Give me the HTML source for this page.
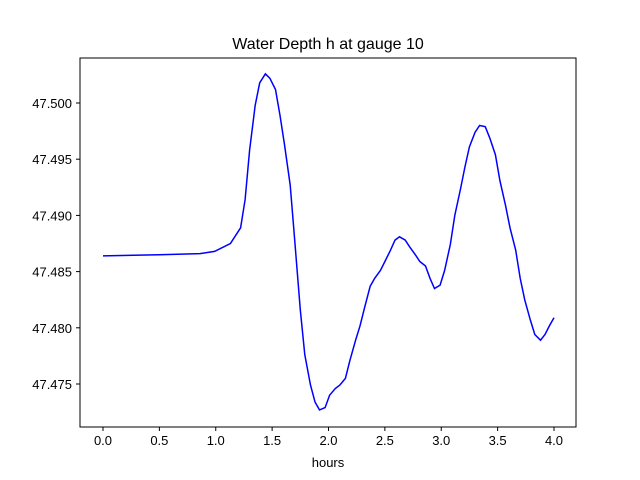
<!DOCTYPE html>
<html><head><meta charset="utf-8"><style>
body{margin:0;background:#fff;}
svg{display:block;font-family:"Liberation Sans","DejaVu Sans",sans-serif;}
</style></head><body>
<svg id="chart" width="640" height="480">
<rect x="0" y="0" width="640" height="480" fill="#fff"/>
<text x="328" y="49" text-anchor="middle" font-size="16">Water Depth h at gauge 10</text>
<g id="ticks"></g>
<path id="line" fill="none" stroke="#0000ff" stroke-width="1.5"/>
<rect x="80" y="58" width="496" height="369" fill="none" stroke="#000" stroke-width="1"/>
<text x="328" y="467" text-anchor="middle" font-size="13">hours</text>
</svg>
<script>
const hours=[0,0.5,0.86,0.99,1.13,1.22,1.26,1.30,1.35,1.39,1.44,1.48,1.53,1.57,1.61,1.66,1.70,1.75,1.79,1.84,1.88,1.92,1.97,2.01,2.06,2.10,2.15,2.19,2.24,2.28,2.32,2.37,2.41,2.46,2.50,2.55,2.59,2.63,2.68,2.72,2.77,2.81,2.86,2.90,2.94,2.99,3.03,3.08,3.12,3.17,3.21,3.25,3.30,3.34,3.39,3.43,3.48,3.52,3.57,3.61,3.66,3.70,3.74,3.79,3.83,3.88,3.92,3.96,4.00];
const depth=[47.4864,47.4865,47.4866,47.4868,47.4875,47.4889,47.4914,47.4958,47.4998,47.5018,47.5026,47.5022,47.5012,47.4989,47.4963,47.4927,47.4878,47.4816,47.4776,47.4749,47.4734,47.4727,47.4729,47.4740,47.4746,47.4749,47.4755,47.4771,47.4789,47.4802,47.4818,47.4837,47.4844,47.4851,47.4859,47.4869,47.4878,47.4881,47.4878,47.4872,47.4865,47.4859,47.4855,47.4844,47.4835,47.4838,47.4851,47.4874,47.4900,47.4923,47.4943,47.4961,47.4974,47.4980,47.4979,47.4969,47.4954,47.4931,47.4909,47.4889,47.4869,47.4844,47.4825,47.4807,47.4794,47.4789,47.4794,47.4802,47.4809];
const xTicks=[0,0.5,1,1.5,2,2.5,3,3.5,4];
const yTicks=[47.475,47.480,47.485,47.490,47.495,47.500];
const sx=h=>103+h*112.75;
const sy=v=>103+(47.5-v)/0.005*56.2;
const NS="http://www.w3.org/2000/svg";
const g=document.getElementById('ticks');
function mk(t,a){const e=document.createElementNS(NS,t);for(const k in a)e.setAttribute(k,a[k]);return e;}
xTicks.forEach(t=>{
  const l=mk('line',{x1:sx(t),x2:sx(t),y1:427,y2:431,stroke:'#000'});
  
  
  g.appendChild(l);
  const tx=mk('text',{x:sx(t),y:445,'text-anchor':'middle','font-size':'13'});
  
  
  tx.textContent=t.toFixed(1);g.appendChild(tx);
});
yTicks.forEach(t=>{
  const l=mk('line',{x1:76,x2:80,y1:sy(t),y2:sy(t),stroke:'#000'});
  
  
  g.appendChild(l);
  const tx=mk('text',{x:72,y:sy(t)+5,'text-anchor':'end','font-size':'13'});
  
  
  tx.textContent=t.toFixed(3);g.appendChild(tx);
});
document.getElementById('line').setAttribute('d',hours.map((h,i)=>(i?'L':'M')+sx(h).toFixed(1)+','+sy(depth[i]).toFixed(1)).join(''));
</script>
</body></html>
